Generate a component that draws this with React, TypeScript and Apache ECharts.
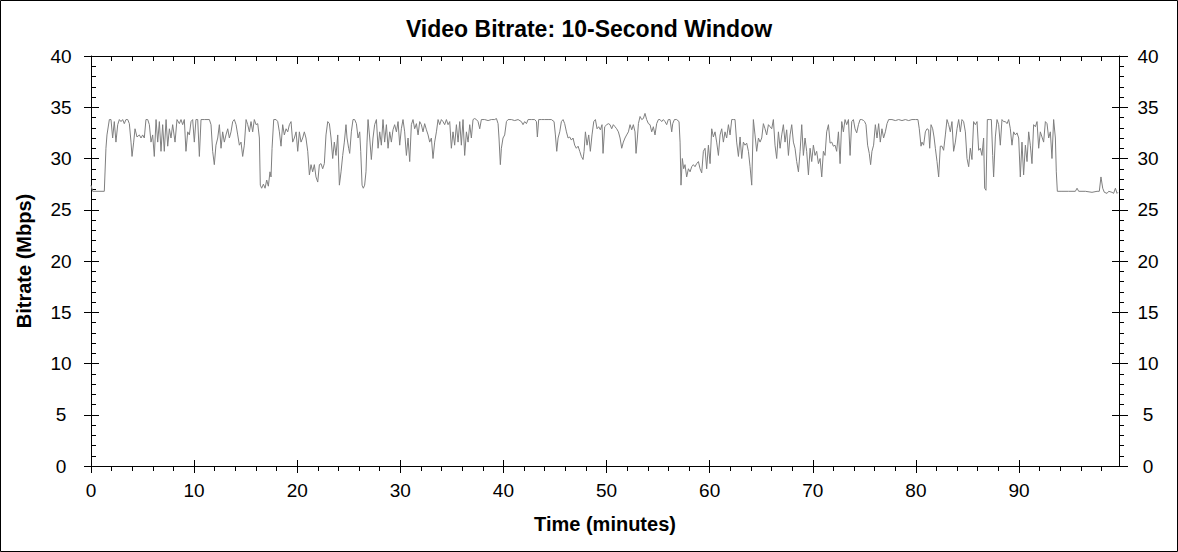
import React, { useEffect, useRef } from "react";
import * as echarts from "echarts";

const TITLE = "Video Bitrate: 10-Second Window";
const X_NAME = "Time (minutes)";
const Y_NAME = "Bitrate (Mbps)";

const X_MAJOR = [0, 10, 20, 30, 40, 50, 60, 70, 80, 90];
const X_MINOR = [2, 4, 6, 8, 12, 14, 16, 18, 22, 24, 26, 28, 32, 34, 36, 38, 42, 44, 46, 48, 52, 54, 56, 58, 62, 64, 66, 68, 72, 74, 76, 78, 82, 84, 86, 88, 92, 94, 96, 98];
const X_MAX = 99.7;
const Y_MAX = 40;
const Y_STEP = 5;

// [minute, Mbps]
const part1: [number, number][] = [
  [0.0, 27.4], [0.16, 26.8], [1.29, 26.8], [1.45, 31.0], [1.55, 32.3], [1.78, 33.8], [1.94, 33.8], [2.1, 32.0], [2.26, 33.6], [2.42, 31.6],
  [2.59, 33.3], [2.75, 33.8], [2.91, 33.6], [3.07, 33.8], [3.23, 33.4], [3.39, 33.8], [3.56, 33.8], [3.72, 33.4], [3.88, 31.6], [3.98, 30.2],
  [4.14, 31.6], [4.27, 32.9], [4.46, 32.1], [4.69, 32.3], [4.85, 32.0], [5.01, 32.3], [5.17, 32.0], [5.33, 33.8], [5.5, 33.8], [5.66, 33.3],
  [5.82, 31.6], [5.98, 32.3], [6.14, 30.2], [6.31, 33.8], [6.47, 31.6], [6.63, 33.6], [6.79, 30.7], [6.95, 33.3], [7.11, 30.7], [7.28, 33.8],
  [7.44, 31.2], [7.6, 32.9], [7.76, 32.0], [7.92, 33.3], [8.15, 31.6], [8.34, 33.8], [8.57, 33.4], [8.73, 33.8], [8.89, 33.3], [9.05, 33.8],
  [9.21, 30.7], [9.38, 32.6], [9.54, 32.3], [9.7, 33.6], [9.86, 33.8], [10.02, 31.6], [10.18, 33.8], [10.35, 33.8], [10.51, 30.2], [10.67, 33.8],
  [10.99, 33.8], [11.48, 33.8], [11.64, 33.3], [11.8, 30.7], [11.96, 29.4], [12.12, 31.3], [12.29, 32.0], [12.45, 33.3], [12.61, 31.0], [12.77, 32.6],
  [12.93, 31.6], [13.09, 32.3], [13.26, 32.9], [13.42, 32.0], [13.58, 32.6], [13.74, 33.6], [13.9, 33.8], [14.07, 33.3], [14.23, 32.3], [14.39, 31.3],
  [14.55, 31.6], [14.71, 30.2], [14.87, 31.3], [15.04, 33.8], [15.2, 33.3], [15.36, 32.6], [15.52, 33.6], [15.68, 32.6], [15.84, 33.8], [16.01, 33.3],
  [16.17, 33.4], [16.33, 32.0], [16.42, 27.4], [16.55, 27.1], [16.72, 27.5], [16.88, 27.1], [17.04, 27.9], [17.2, 27.3], [17.36, 28.7], [17.46, 28.2],
  [17.56, 31.0], [17.72, 33.8], [17.95, 33.8], [18.11, 33.6], [18.27, 32.6], [18.43, 31.2], [18.59, 33.3], [18.75, 32.3], [18.92, 32.9], [19.08, 32.6],
  [19.24, 33.3], [19.4, 33.6], [19.56, 31.6], [19.72, 32.0], [19.89, 32.6], [20.05, 30.7], [20.21, 32.6], [20.37, 31.6], [20.53, 32.0], [20.69, 32.6],
  [20.85, 32.0], [21.02, 30.7], [21.18, 28.4], [21.34, 29.4], [21.5, 28.7], [21.66, 29.4], [21.82, 28.2], [21.99, 27.7], [22.15, 29.4], [22.31, 29.5],
  [22.47, 29.0], [22.63, 29.5], [22.79, 32.3], [22.96, 33.6], [23.12, 33.4], [23.28, 32.0], [23.44, 30.0], [23.6, 31.6], [23.76, 30.3], [23.93, 32.3],
  [24.09, 27.4], [24.25, 28.7], [24.41, 30.3], [24.57, 31.6], [24.73, 33.3], [24.83, 32.0], [24.99, 31.0],
];

const part2: [number, number][] = [
  [25.09, 30.5], [25.25, 32.6], [25.41, 33.8], [25.57, 33.8], [25.74, 33.4], [25.9, 32.0], [26.06, 32.6], [26.16, 30.7], [26.29, 27.4], [26.41, 27.1],
  [26.54, 27.4], [26.67, 28.7], [26.77, 31.6], [26.87, 33.8], [27.03, 32.0], [27.19, 29.9], [27.35, 32.0], [27.51, 33.3], [27.68, 33.8], [27.84, 31.0],
  [28.0, 32.6], [28.16, 31.3], [28.32, 33.8], [28.48, 31.6], [28.65, 33.3], [28.81, 31.0], [28.97, 32.6], [29.13, 31.6], [29.29, 32.8], [29.45, 33.3],
  [29.62, 32.6], [29.78, 33.6], [29.94, 31.3], [30.1, 32.9], [30.26, 33.8], [30.42, 32.6], [30.59, 30.3], [30.75, 32.0], [30.91, 29.7], [31.07, 33.3],
  [31.23, 33.8], [31.39, 32.9], [31.56, 33.4], [31.72, 32.3], [31.88, 33.6], [32.04, 33.3], [32.2, 32.6], [32.36, 33.4], [32.53, 32.8], [32.69, 32.3],
  [32.85, 31.6], [33.01, 32.0], [33.17, 30.0], [33.33, 31.6], [33.5, 32.6], [33.66, 33.8], [33.82, 33.3], [33.98, 33.8], [34.14, 33.6], [34.3, 33.3],
  [34.47, 33.8], [34.63, 33.3], [34.79, 33.6], [34.95, 31.0], [35.11, 32.6], [35.27, 31.3], [35.44, 33.3], [35.6, 31.6], [35.76, 33.6], [35.92, 31.3],
  [36.08, 33.8], [36.24, 30.3], [36.41, 32.6], [36.57, 31.6], [36.73, 33.3], [36.89, 32.0], [37.05, 33.8], [37.21, 33.9], [37.38, 33.8], [37.54, 33.6],
  [37.7, 32.9], [37.86, 33.8], [38.18, 33.8], [38.51, 33.7], [38.83, 33.8], [39.15, 33.8], [39.32, 33.9], [39.48, 33.4], [39.57, 32.0], [39.7, 29.4],
  [39.8, 31.0], [39.96, 32.0], [40.12, 32.3], [40.29, 33.6], [40.45, 33.8], [40.77, 33.8], [41.09, 33.7], [41.42, 33.8], [41.74, 33.6], [41.9, 33.3],
  [42.06, 33.6], [42.23, 33.4], [42.39, 33.8], [42.71, 33.8], [43.03, 33.8], [43.2, 33.6], [43.29, 32.1], [43.42, 33.8], [43.68, 33.8], [44.0, 33.8],
  [44.33, 33.8], [44.65, 33.8], [44.91, 33.6], [45.04, 32.3], [45.17, 30.7], [45.3, 32.0], [45.46, 32.6], [45.62, 33.6], [45.78, 33.8], [45.94, 33.4],
  [46.11, 32.6], [46.27, 32.0], [46.43, 32.1], [46.59, 31.8], [46.75, 32.0], [46.91, 31.3], [47.07, 31.0], [47.24, 31.2], [47.4, 30.7], [47.56, 30.2],
  [47.72, 29.9], [47.82, 30.7], [47.95, 32.6], [48.11, 31.3], [48.27, 32.3], [48.43, 30.7], [48.59, 32.3], [48.76, 33.6], [48.92, 33.8], [49.08, 32.9],
  [49.24, 33.1], [49.4, 32.8], [49.56, 33.3], [49.66, 30.5], [49.82, 33.1], [50.02, 33.3],
];

const part3: [number, number][] = [
  [50.18, 33.4], [50.34, 33.3], [50.5, 32.9], [50.66, 33.3], [50.82, 33.1], [50.98, 32.9], [51.15, 32.6], [51.31, 32.0], [51.47, 31.0], [51.63, 31.6],
  [51.79, 32.0], [51.95, 32.3], [52.12, 32.6], [52.28, 33.3], [52.44, 32.8], [52.6, 33.3], [52.76, 32.6], [52.86, 30.5], [52.99, 32.0], [53.09, 33.4],
  [53.25, 34.1], [53.41, 33.8], [53.57, 33.9], [53.73, 34.4], [53.89, 33.8], [54.06, 33.4], [54.22, 33.3], [54.38, 32.6], [54.54, 33.1], [54.7, 32.3],
  [54.86, 33.4], [55.03, 33.8], [55.19, 33.8], [55.35, 33.6], [55.51, 33.8], [55.67, 33.6], [55.83, 33.3], [55.99, 33.8], [56.16, 33.8], [56.32, 32.6],
  [56.42, 33.4], [56.58, 33.8], [56.8, 33.8], [57.03, 33.6], [57.13, 31.6], [57.22, 27.4], [57.35, 30.0], [57.48, 29.0], [57.61, 29.4], [57.77, 28.2],
  [57.94, 29.0], [58.1, 28.7], [58.26, 29.2], [58.42, 29.4], [58.58, 29.2], [58.74, 29.5], [58.91, 29.7], [59.07, 29.0], [59.23, 28.6], [59.39, 30.7],
  [59.55, 31.0], [59.71, 29.0], [59.88, 31.3], [60.04, 29.5], [60.2, 32.9], [60.36, 32.1], [60.52, 32.6], [60.68, 31.6], [60.85, 30.3], [61.01, 32.3],
  [61.17, 32.9], [61.33, 31.6], [61.49, 32.6], [61.65, 32.0], [61.82, 33.3], [61.98, 32.3], [62.14, 33.8], [62.3, 33.8], [62.46, 33.8], [62.62, 31.6],
  [62.79, 30.2], [62.95, 32.1], [63.11, 30.0], [63.27, 31.6], [63.43, 31.3], [63.59, 31.5], [63.76, 30.7], [63.92, 29.2], [64.08, 27.4], [64.24, 33.8],
  [64.4, 32.3], [64.56, 30.7], [64.73, 32.0], [64.89, 31.6], [65.05, 32.0], [65.21, 33.4], [65.37, 32.9], [65.53, 32.3], [65.7, 33.3], [65.86, 33.1],
  [66.02, 32.9], [66.18, 33.8], [66.34, 31.3], [66.5, 30.0], [66.67, 32.6], [66.83, 31.0], [66.99, 32.3], [67.15, 33.3], [67.31, 31.6], [67.47, 32.8],
  [67.64, 30.3], [67.8, 32.3], [67.96, 33.3], [68.12, 31.6], [68.28, 31.0], [68.44, 29.7], [68.61, 28.7], [68.77, 30.7], [68.93, 33.3], [69.09, 30.3],
  [69.25, 32.0], [69.41, 30.7], [69.58, 28.4], [69.74, 31.0], [69.9, 29.7], [70.06, 31.3], [70.22, 30.3], [70.38, 30.7], [70.55, 29.5], [70.71, 30.0],
  [70.87, 28.2], [71.03, 30.7], [71.19, 30.3], [71.35, 32.6], [71.52, 33.3], [71.68, 31.5], [71.84, 31.6], [72.0, 31.2], [72.16, 31.3], [72.32, 30.7],
  [72.49, 32.6], [72.65, 29.5], [72.81, 33.6], [72.97, 32.6], [73.13, 33.8], [73.29, 33.3], [73.46, 33.8], [73.62, 30.3], [73.78, 33.6], [73.94, 33.8],
  [74.1, 32.9], [74.26, 32.5], [74.43, 33.3], [74.59, 33.8], [74.75, 33.8], [74.94, 33.7],
];

const part4: [number, number][] = [
  [75.03, 33.6], [75.16, 33.3], [75.32, 31.3], [75.48, 30.5], [75.61, 29.4], [75.74, 30.7], [75.9, 31.3], [76.07, 33.3], [76.23, 32.0], [76.39, 33.4],
  [76.55, 31.6], [76.71, 32.9], [76.87, 32.0], [77.04, 32.6], [77.2, 33.4], [77.36, 33.8], [77.68, 33.8], [78.01, 33.7], [78.33, 33.8], [78.65, 33.7],
  [78.98, 33.8], [79.3, 33.7], [79.62, 33.8], [79.95, 33.8], [80.2, 33.8], [80.33, 32.9], [80.5, 31.2], [80.59, 31.6], [80.75, 31.3], [80.92, 32.6],
  [81.08, 32.9], [81.24, 32.8], [81.34, 31.0], [81.47, 33.3], [81.63, 32.9], [81.76, 32.1], [81.89, 31.0], [82.05, 29.7], [82.21, 28.2], [82.37, 31.2],
  [82.53, 31.2], [82.69, 30.8], [82.86, 32.3], [83.02, 33.8], [83.18, 33.3], [83.34, 32.6], [83.5, 33.6], [83.66, 30.7], [83.83, 31.6], [83.99, 32.9],
  [84.15, 33.8], [84.31, 32.6], [84.47, 33.8], [84.63, 33.6], [84.8, 32.6], [84.96, 30.0], [85.12, 29.2], [85.28, 31.0], [85.44, 29.9], [85.6, 33.6],
  [85.77, 33.3], [85.93, 33.6], [86.09, 30.8], [86.25, 31.0], [86.41, 30.3], [86.57, 32.0], [86.67, 27.1], [86.8, 26.9], [86.93, 33.8], [87.12, 33.8],
  [87.32, 33.8], [87.45, 30.3], [87.54, 28.2], [87.71, 32.1], [87.87, 33.8], [88.03, 33.3], [88.19, 31.3], [88.35, 33.8], [88.51, 33.6], [88.68, 33.6],
  [88.84, 33.4], [89.0, 33.8], [89.16, 32.9], [89.32, 31.3], [89.48, 32.6], [89.65, 32.3], [89.81, 32.5], [89.97, 32.0], [90.13, 28.2], [90.29, 31.6],
  [90.45, 28.4], [90.62, 31.3], [90.78, 29.7], [90.94, 32.6], [91.1, 31.3], [91.26, 29.5], [91.42, 33.3], [91.59, 33.1], [91.75, 33.6], [91.91, 31.0],
  [92.07, 32.6], [92.23, 32.1], [92.39, 31.6], [92.56, 33.6], [92.72, 33.4], [92.88, 32.0], [93.04, 32.6], [93.2, 30.0], [93.36, 33.8], [93.53, 32.0],
  [93.62, 28.7], [93.72, 26.8], [94.17, 26.8], [94.82, 26.8], [95.47, 26.8], [95.63, 27.1], [95.79, 26.8], [96.44, 26.8], [97.08, 26.7], [97.57, 26.8],
  [97.79, 26.8], [97.95, 28.2], [98.12, 27.1], [98.28, 26.7], [98.54, 26.6], [98.7, 26.8], [99.02, 26.7], [99.18, 26.6], [99.35, 27.1], [99.51, 26.6],
  [99.6, 26.7],
];

const FONT = "Arial, 'Liberation Sans', sans-serif";
const BLACK = "#000000";
const LINE_GRAY = "#7f7f7f";

export default function App() {
  const ref = useRef<HTMLDivElement>(null);

  useEffect(() => {
    if (!ref.current) return;
    const chart = echarts.init(ref.current, null, { renderer: "svg" });

    const tickLine = { color: BLACK, width: 1 };
    const baseX: any = {
      type: "value",
      gridIndex: 0,
      min: 0,
      max: X_MAX,
      interval: 10,
      splitLine: { show: false },
      axisLine: { show: false, onZero: false },
      axisLabel: { show: false },
      axisTick: { show: false },
    };
    const baseY: any = {
      type: "value",
      gridIndex: 0,
      min: 0,
      max: Y_MAX,
      interval: Y_STEP,
      splitLine: { show: false },
      axisLine: { show: false, onZero: false },
      axisLabel: { show: false },
      axisTick: { show: false },
    };
    const xFmt = (v: number) => (X_MAJOR.indexOf(v) >= 0 ? String(v) : "");

    const option: any = {
      animation: false,
      backgroundColor: "#ffffff",
      title: {
        text: TITLE,
        left: "center",
        top: 12,
        textStyle: { fontSize: 23, fontWeight: "bold", color: BLACK, fontFamily: FONT },
      },
      grid: { left: 91, top: 56, width: 1028, height: 410, containLabel: false },
      xAxis: [
        {
          ...baseX,
          position: "bottom",
          axisLine: { show: true, onZero: false, lineStyle: tickLine },
          axisTick: { show: true, inside: false, length: 7, lineStyle: tickLine, customValues: X_MAJOR },
          axisLabel: {
            show: true,
            customValues: X_MAJOR,
            formatter: xFmt,
            fontSize: 19,
            color: BLACK,
            fontFamily: FONT,
            margin: 15,
          },
          name: X_NAME,
          nameLocation: "middle",
          nameGap: 48,
          nameTextStyle: { fontSize: 20, fontWeight: "bold", color: BLACK, fontFamily: FONT },
        },
        {
          ...baseX,
          position: "bottom",
          axisTick: { show: true, inside: true, length: 6, lineStyle: tickLine, customValues: X_MAJOR },
        },
        {
          ...baseX,
          position: "bottom",
          axisTick: { show: true, inside: false, length: 5, lineStyle: tickLine, customValues: X_MINOR },
        },
        {
          ...baseX,
          position: "top",
          axisLine: { show: true, onZero: false, lineStyle: tickLine },
          axisTick: { show: true, inside: true, length: 8, lineStyle: tickLine, customValues: X_MAJOR },
        },
        {
          ...baseX,
          position: "top",
          axisTick: { show: true, inside: true, length: 5, lineStyle: tickLine, customValues: X_MINOR },
        },
      ],
      yAxis: [
        {
          ...baseY,
          position: "left",
          axisLine: { show: true, onZero: false, lineStyle: tickLine },
          axisTick: { show: true, inside: false, length: 7, lineStyle: tickLine },
          axisLabel: { show: true, fontSize: 19, color: BLACK, fontFamily: FONT, align: "center", margin: 30 },
          name: Y_NAME,
          nameLocation: "middle",
          nameRotate: 90,
          nameGap: 57,
          nameTextStyle: { fontSize: 20, fontWeight: "bold", color: BLACK, fontFamily: FONT },
        },
        {
          ...baseY,
          position: "left",
          axisTick: { show: true, inside: true, length: 8, lineStyle: tickLine },
          minorTick: { show: true, splitNumber: 5, length: 5, lineStyle: tickLine },
        },
        {
          ...baseY,
          position: "right",
          axisLine: { show: true, onZero: false, lineStyle: tickLine },
          axisTick: { show: true, inside: false, length: 9, lineStyle: tickLine },
          minorTick: { show: true, splitNumber: 5, length: 5, lineStyle: tickLine },
          axisLabel: { show: true, fontSize: 19, color: BLACK, fontFamily: FONT, align: "center", margin: 29 },
        },
        {
          ...baseY,
          position: "right",
          axisTick: { show: true, inside: true, length: 7, lineStyle: tickLine },
        },
      ],
      graphic: [
        {
          type: "rect",
          shape: { x: 0.5, y: 0.5, width: 1177, height: 551 },
          style: { fill: "none", stroke: BLACK, lineWidth: 1 },
          silent: true,
        },
      ],
      series: [
        {
          type: "line",
          xAxisIndex: 0,
          yAxisIndex: 0,
          data: [...part1, ...part2, ...part3, ...part4],
          showSymbol: false,
          symbol: "none",
          clip: true,
          lineStyle: { color: LINE_GRAY, width: 1 },
          emphasis: { disabled: true },
        },
      ],
    };

    chart.setOption(option);
    return () => chart.dispose();
  }, []);

  return (
    <div
      ref={ref}
      style={{ position: "fixed", left: 0, top: 0, width: 1178, height: 552, background: "#ffffff" }}
    />
  );
}
